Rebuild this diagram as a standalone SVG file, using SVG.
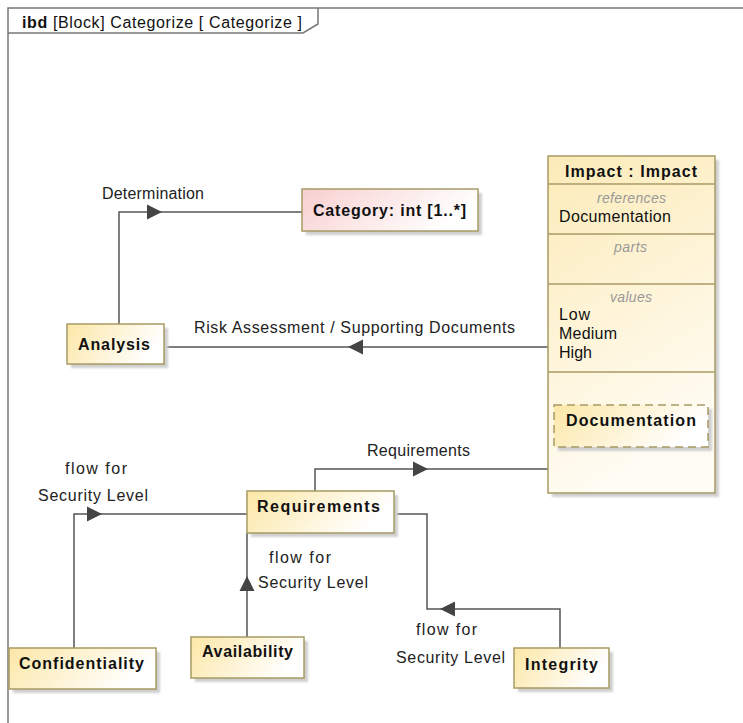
<svg xmlns="http://www.w3.org/2000/svg" width="743" height="723" viewBox="0 0 743 723">
  <style>
    .lbl { font-family: "Liberation Sans", Arial, sans-serif; font-size: 16px; fill: #222; }
    .name { font-family: "Liberation Sans", Arial, sans-serif; font-size: 16px; font-weight: bold; fill: #111; }
    .comp { font-family: "Liberation Sans", Arial, sans-serif; font-size: 14px; font-style: italic; fill: #999; }
    .box { stroke: #a89a66; stroke-width: 1.5; }
    .shadow { fill: #cfcfcf; }
    .wire { fill: none; stroke: #555; stroke-width: 1.5; }
    .head { fill: #444; }
    .frame { fill: none; stroke: #777; stroke-width: 1.5; }
  </style>
  <defs>
    <linearGradient id="partFill" x1="0" y1="0" x2="1" y2="0.3">
      <stop offset="0" stop-color="#fce7a6"/>
      <stop offset="1" stop-color="#ffffff"/>
    </linearGradient>
    <linearGradient id="valueFill" x1="0" y1="0" x2="1" y2="0.3">
      <stop offset="0" stop-color="#f8cfcf"/>
      <stop offset="1" stop-color="#ffffff"/>
    </linearGradient>
    <linearGradient id="blockFill" x1="0" y1="0" x2="0.3" y2="1">
      <stop offset="0" stop-color="#fcebb8"/>
      <stop offset="1" stop-color="#fffcf4"/>
    </linearGradient>
    <filter id="soft" x="-10%" y="-10%" width="130%" height="130%">
      <feGaussianBlur stdDeviation="1.2"/>
    </filter>
  </defs>

  <rect width="743" height="723" fill="#ffffff"/>

  <!-- diagram frame with name tab -->
  <g id="frame">
    <path class="frame" d="M8,723 L8,8 L743,8"/>
    <path class="frame" d="M8,33 L303,33 L318,24 L318,8"/>
    <text x="22" y="28" class="lbl" style="fill:#111" textLength="280" lengthAdjust="spacing"><tspan font-weight="bold">ibd</tspan> [Block] Categorize [ Categorize ]</text>
  </g>

  <!-- connectors -->
  <g id="connectors">
    <!-- Determination -->
    <path class="wire" d="M302,212 L119,212 L119,324"/>
    <path class="head" d="M147,204.5 L162,212 L147,219.5 Z"/>
    <text x="102" y="199" class="lbl" textLength="102" lengthAdjust="spacing">Determination</text>

    <!-- Risk Assessment / Supporting Documents -->
    <path class="wire" d="M548,347 L164,347"/>
    <path class="head" d="M363,339.5 L348,347 L363,354.5 Z"/>
    <text x="194" y="333" class="lbl" textLength="321" lengthAdjust="spacing">Risk Assessment / Supporting Documents</text>

    <!-- Requirements to Impact -->
    <path class="wire" d="M315,491 L315,469 L548,469"/>
    <path class="head" d="M413,461.5 L428,469 L413,476.5 Z"/>
    <text x="367" y="456" class="lbl" textLength="103" lengthAdjust="spacing">Requirements</text>

    <!-- Confidentiality flow -->
    <path class="wire" d="M74,648 L74,514 L247,514"/>
    <path class="head" d="M87,506.5 L102,514 L87,521.5 Z"/>
    <text x="65" y="474" class="lbl" textLength="62" lengthAdjust="spacing">flow for</text>
    <text x="38" y="501" class="lbl" textLength="110" lengthAdjust="spacing">Security Level</text>

    <!-- Availability flow -->
    <path class="wire" d="M247,637 L247,533"/>
    <path class="head" d="M239.5,591 L247,576 L254.5,591 Z"/>
    <text x="269" y="563" class="lbl" textLength="62" lengthAdjust="spacing">flow for</text>
    <text x="258" y="588" class="lbl" textLength="110" lengthAdjust="spacing">Security Level</text>

    <!-- Integrity flow -->
    <path class="wire" d="M394,514 L427,514 L427,609 L560,609 L560,648"/>
    <path class="head" d="M455,601.5 L440,609 L455,616.5 Z"/>
    <text x="416" y="635" class="lbl" textLength="61" lengthAdjust="spacing">flow for</text>
    <text x="396" y="663" class="lbl" textLength="109" lengthAdjust="spacing">Security Level</text>
  </g>

  <!-- Category value property -->
  <g id="category">
    <rect x="306" y="193" width="176" height="42" class="shadow" filter="url(#soft)"/>
    <rect x="302" y="189" width="176" height="42" fill="url(#valueFill)" class="box"/>
    <text x="313" y="216" class="name" textLength="153" lengthAdjust="spacing">Category: int [1..*]</text>
  </g>

  <!-- Analysis part -->
  <g id="analysis">
    <rect x="71" y="328" width="97" height="40" class="shadow" filter="url(#soft)"/>
    <rect x="67" y="324" width="97" height="40" fill="url(#partFill)" class="box"/>
    <text x="78" y="350" class="name" textLength="72" lengthAdjust="spacing">Analysis</text>
  </g>

  <!-- Impact block -->
  <g id="impact">
    <rect x="552" y="160" width="167" height="337" class="shadow" filter="url(#soft)"/>
    <rect x="548" y="156" width="167" height="337" fill="url(#blockFill)" class="box"/>
    <line x1="548" y1="184" x2="715" y2="184" class="box"/>
    <line x1="548" y1="234" x2="715" y2="234" class="box"/>
    <line x1="548" y1="284" x2="715" y2="284" class="box"/>
    <line x1="548" y1="372" x2="715" y2="372" class="box"/>
    <text x="565" y="177" class="name" textLength="132" lengthAdjust="spacing">Impact : Impact</text>
    <text x="597" y="203" class="comp" textLength="69" lengthAdjust="spacing">references</text>
    <text x="559" y="222" class="lbl" style="fill:#111" textLength="112" lengthAdjust="spacing">Documentation</text>
    <text x="614" y="252" class="comp" textLength="33" lengthAdjust="spacing">parts</text>
    <text x="610" y="302" class="comp" textLength="42" lengthAdjust="spacing">values</text>
    <text x="559" y="320" class="lbl" style="fill:#111" textLength="31" lengthAdjust="spacing">Low</text>
    <text x="559" y="339" class="lbl" style="fill:#111" textLength="58" lengthAdjust="spacing">Medium</text>
    <text x="559" y="358" class="lbl" style="fill:#111" textLength="33" lengthAdjust="spacing">High</text>
  </g>

  <!-- Documentation reference part -->
  <g id="documentation">
    <rect x="558" y="409" width="154" height="42" class="shadow" filter="url(#soft)"/>
    <rect x="554" y="405" width="154" height="42" fill="url(#partFill)" class="box" stroke-dasharray="8,5"/>
    <text x="566" y="426" class="name" textLength="130" lengthAdjust="spacing">Documentation</text>
  </g>

  <!-- Requirements part -->
  <g id="requirements">
    <rect x="251" y="495" width="147" height="42" class="shadow" filter="url(#soft)"/>
    <rect x="247" y="491" width="147" height="42" fill="url(#partFill)" class="box"/>
    <text x="257" y="512" class="name" textLength="123" lengthAdjust="spacing">Requirements</text>
  </g>

  <!-- Confidentiality part -->
  <g id="confidentiality">
    <rect x="13" y="652" width="147" height="41" class="shadow" filter="url(#soft)"/>
    <rect x="9" y="648" width="147" height="41" fill="url(#partFill)" class="box"/>
    <text x="19" y="669" class="name" textLength="125" lengthAdjust="spacing">Confidentiality</text>
  </g>

  <!-- Availability part -->
  <g id="availability">
    <rect x="195" y="641" width="113" height="41" class="shadow" filter="url(#soft)"/>
    <rect x="191" y="637" width="113" height="41" fill="url(#partFill)" class="box"/>
    <text x="202" y="657" class="name" textLength="91" lengthAdjust="spacing">Availability</text>
  </g>

  <!-- Integrity part -->
  <g id="integrity">
    <rect x="518" y="652" width="95" height="40" class="shadow" filter="url(#soft)"/>
    <rect x="514" y="648" width="95" height="40" fill="url(#partFill)" class="box"/>
    <text x="525" y="670" class="name" textLength="73" lengthAdjust="spacing">Integrity</text>
  </g>
</svg>
